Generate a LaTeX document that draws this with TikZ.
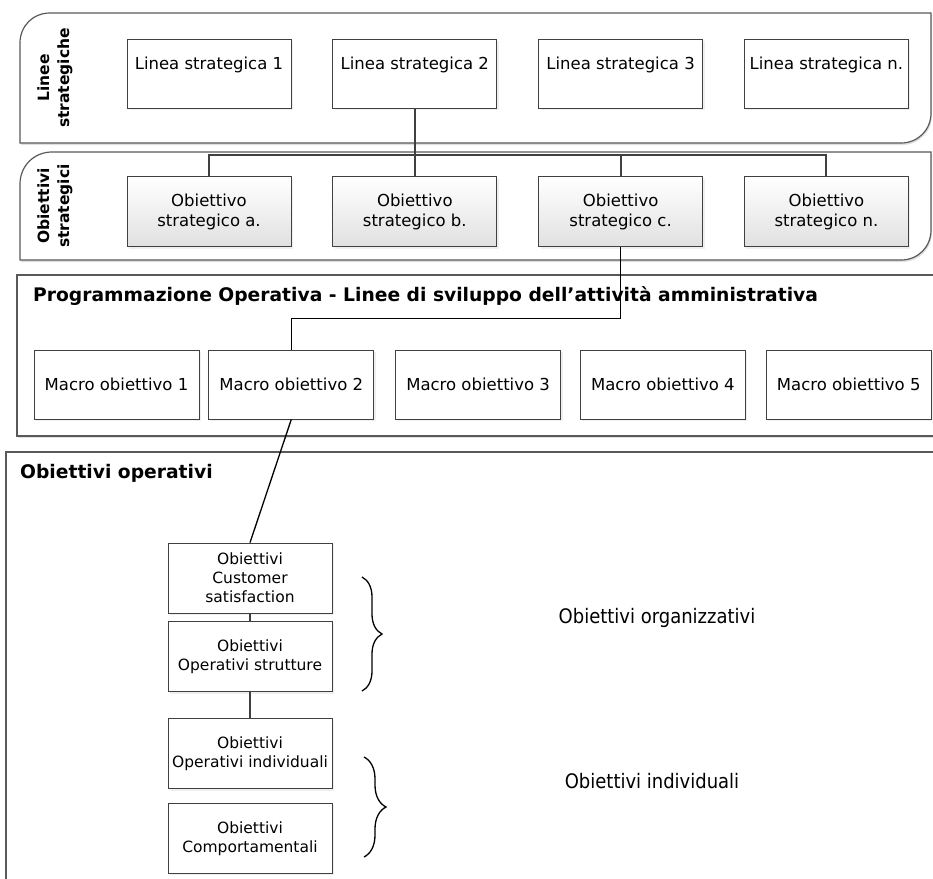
\documentclass[tikz,border=0pt]{standalone}
\usepackage{fontspec}
\setmainfont{DejaVu Sans}
\newfontfamily\condfont{DejaVu Sans Condensed}
\usetikzlibrary{positioning, shadows, decorations.pathreplacing}

\tikzstyle{panel} = [draw=black!65, line width=1.2pt, fill=white, drop shadow={opacity=0.25, shadow xshift=1pt, shadow yshift=-2pt}]
\tikzstyle{goal} = [rectangle, minimum width=164pt, minimum height=69pt, text centered, align=center, inner sep=2pt, draw=black!75, line width=0.8pt, fill=white, font=\fontsize{16.5}{20}\selectfont, drop shadow={opacity=0.12, shadow xshift=2pt, shadow yshift=-2pt}]
\tikzstyle{stratgoal} = [goal, minimum height=70pt, top color=white, bottom color=black!12]
\tikzstyle{opgoal} = [goal, minimum height=70pt, font=\fontsize{15.5}{19}\selectfont]
\tikzstyle{link} = [draw=black!75, line width=2pt]
\tikzstyle{thinlink} = [draw=black, line width=1.3pt]
\tikzstyle{paneltitle} = [font=\bfseries\fontsize{18.7}{22}\selectfont, anchor=west, inner sep=0pt]
\tikzstyle{sidetitle} = [font=\bfseries\fontsize{15.5}{20}\selectfont, rotate=90, align=center, inner sep=0pt]
\tikzstyle{groupbrace} = [draw=black, line width=1.3pt, decorate]
\tikzstyle{grouplabel} = [font=\condfont\fontsize{20}{24}\selectfont, inner sep=0pt]

\begin{document}
\begin{tikzpicture}[x=1pt, y=-1pt, node distance=41pt]
\useasboundingbox (0,0) rectangle (933,878);
\clip (0,0) rectangle (933,878);

% Panels
\draw[panel] (20,143) -- (20,43) .. controls (20,26) and (33,13) .. (50,13) -- (931,13) -- (931,113) .. controls (931,130) and (918,143) .. (901,143) -- cycle;
\draw[panel] (20,260) -- (20,184) .. controls (20,166) and (34,152) .. (52,152) -- (931,152) -- (931,230) .. controls (931,247) and (918,260) .. (901,260) -- cycle;
\draw[panel] (17,275) rectangle (950,436);
\draw[panel] (6,452) rectangle (950,900);

% Panel titles
\node (lstitle) [sidetitle] at (55,78) {Linee\\strategiche};
\node (ostitle) [sidetitle] at (55,206) {Obiettivi\\strategici};
\node (potitle) [paneltitle] at (33,296) {Programmazione Operativa - Linee di sviluppo dell’attività amministrativa};
\node (optitle) [paneltitle] at (20,473) {Obiettivi operativi};

% Linee strategiche
\node (ls1) [goal] at (209,73.5) {Linea strategica 1\\ \mbox{}};
\node (ls2) [goal, right=of ls1] {Linea strategica 2\\ \mbox{}};
\node (ls3) [goal, right=of ls2] {Linea strategica 3\\ \mbox{}};
\node (ls4) [goal, right=of ls3] {Linea strategica n.\\ \mbox{}};

% Obiettivi strategici
\node (os1) [stratgoal, below=68pt of ls1] {Obiettivo\\strategico a.};
\node (os2) [stratgoal, right=of os1] {Obiettivo\\strategico b.};
\node (os3) [stratgoal, right=of os2] {Obiettivo\\strategico c.};
\node (os4) [stratgoal, right=of os3] {Obiettivo\\strategico n.};

% Macro obiettivi
\node (mo1) [goal, minimum width=165pt] at (116.5,384.5) {Macro obiettivo 1};
\node (mo2) [goal, minimum width=165pt, right=9pt of mo1] {Macro obiettivo 2};
\node (mo3) [goal, minimum width=165pt, right=21pt of mo2] {Macro obiettivo 3};
\node (mo4) [goal, minimum width=165pt, right=19pt of mo3] {Macro obiettivo 4};
\node (mo5) [goal, minimum width=165pt, right=20pt of mo4] {Macro obiettivo 5};

% Obiettivi operativi
\node (oo1) [opgoal] at (250,578) {Obiettivi\\Customer\\satisfaction};
\node (oo2) [opgoal, below=8pt of oo1] {Obiettivi\\Operativi strutture};
\node (oo3) [opgoal, below=26pt of oo2] {Obiettivi\\Operativi individuali};
\node (oo4) [opgoal, below=14pt of oo3] {Obiettivi\\Comportamentali};

% Groups
\draw[groupbrace, decoration={brace, amplitude=20pt}] (362,577) -- (362,691);
\draw[groupbrace, decoration={brace, amplitude=22pt}] (364,757) -- (364,857);
\node (orglabel) [grouplabel] at (657,618) {Obiettivi organizzativi};
\node (indlabel) [grouplabel] at (652,781) {Obiettivi individuali};

% Connections
\draw[link] (ls2.south) -- (os2.north);
\draw[link] (os1.north) -- ++(0,-21) -| (os4.north);
\draw[link] (os3.north) -- ++(0,-21);
\draw[thinlink] (os3.south) -- ++(0,71) -| (mo2.north);
\draw[thinlink] (mo2.south) -- (oo1.north);
\draw[link] (oo1.south) -- (oo2.north);
\draw[link] (oo2.south) -- (oo3.north);

\end{tikzpicture}
\end{document}
